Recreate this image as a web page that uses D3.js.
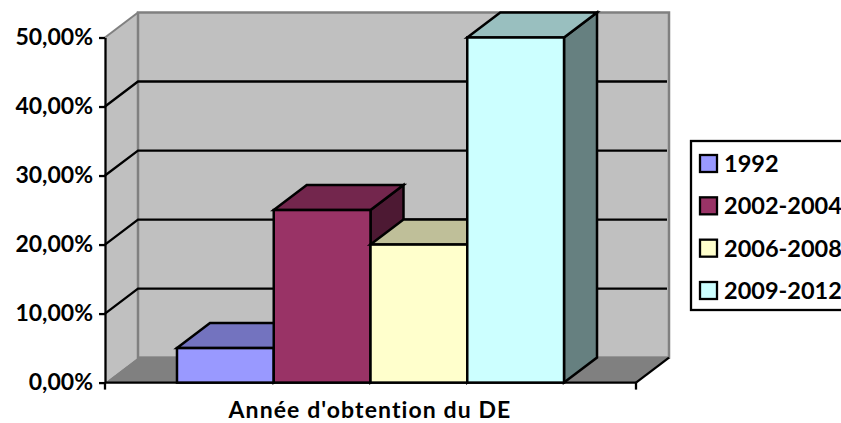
<!DOCTYPE html>
<html>
<head>
<meta charset="utf-8">
<script src="https://cdn.jsdelivr.net/npm/d3@7"></script>
<style>
  body { margin: 0; background: #fff; }
  svg { display: block; }
  text { font-family: Lato, sans-serif; font-weight: 700; fill: #000; }
</style>
</head>
<body>
<svg width="841" height="423"></svg>
<script>
var series = ['1992', '2002-2004', '2006-2008', '2009-2012'];
var values = [5, 25, 20, 50];
var frontColors = ['#9999ff', '#993366', '#ffffcc', '#ccffff'];
var topColors = ['#7373bf', '#73264d', '#bfbf99', '#99bfbf'];
var sideColors = ['#4d4d80', '#4d1933', '#808066', '#668080'];
var yTicks = [0, 10, 20, 30, 40, 50];
var axisTitle = "Année d'obtention du DE";

var svg = d3.select('svg');

// 3d offset of the back wall
var dx = 33, dy = -25;

var yScale = d3.scaleLinear()
               .domain([0, 50])
               .range([382.6, 37.5]);

var xScale = d3.scaleBand()
               .domain(series)
               .range([105, 636])
               .paddingInner(0)
               .paddingOuter(0.744);

var x0 = xScale.range()[0], x1 = xScale.range()[1];
var base = yScale(0), top50 = yScale(50);

function pts(list) {
  return list.map(function(p) { return p.join(','); }).join(' ');
}

// left wall + back wall + floor
svg.append('polygon')
   .attr('points', pts([[x0, base], [x0, top50], [x0 + dx, top50 + dy], [x0 + dx, base + dy]]))
   .style('fill', '#c0c0c0');
svg.append('rect')
   .attr('x', x0 + dx)
   .attr('y', top50 + dy)
   .attr('width', x1 - x0)
   .attr('height', base - top50)
   .style('fill', '#c0c0c0')
   .style('stroke', '#808080')
   .style('stroke-width', 2.5);
svg.append('polyline')
   .attr('points', pts([[x0, top50], [x0 + dx, top50 + dy]]))
   .style('fill', 'none')
   .style('stroke', '#808080')
   .style('stroke-width', 2);
svg.append('polygon')
   .attr('points', pts([[x0, base], [x1, base], [x1 + dx, base + dy], [x0 + dx, base + dy]]))
   .style('fill', '#808080');

// gridlines go round the left wall and along the back one
svg.selectAll('polyline.grid')
   .data(yTicks.filter(function(d) { return d > 0 && d < 50; }))
   .enter()
   .append('polyline')
   .attr('class', 'grid')
   .attr('points', function(d) {
     return pts([[x0, yScale(d)], [x0 + dx, yScale(d) + dy], [x1 + dx - 2, yScale(d) + dy]]);
   })
   .style('fill', 'none')
   .style('stroke', '#000')
   .style('stroke-width', 2.3);

// axis lines
var yAxis = d3.axisLeft(yScale)
              .tickValues(yTicks)
              .tickSize(6)
              .tickSizeOuter(0)
              .tickPadding(6)
              .tickFormat(function(d) { return d3.format('.2f')(d).replace('.', ',') + '%'; });
var yG = svg.append('g')
            .attr('id', 'yAxis')
            .attr('transform', 'translate(' + x0 + ',0)')
            .call(yAxis);
yG.selectAll('text').style('font-size', '23px');
yG.selectAll('line, path').style('stroke', '#000').style('stroke-width', 2.3);

svg.append('line')
   .attr('x1', x0).attr('x2', x1)
   .attr('y1', base).attr('y2', base)
   .style('stroke', '#000').style('stroke-width', 2.3);
svg.append('line')
   .attr('x1', x1).attr('x2', x1 + dx)
   .attr('y1', base).attr('y2', base + dy)
   .style('stroke', '#000').style('stroke-width', 2.3);
svg.selectAll('line.xtick')
   .data([x0, x1])
   .enter()
   .append('line')
   .attr('class', 'xtick')
   .attr('x1', function(d) { return d; })
   .attr('x2', function(d) { return d; })
   .attr('y1', base)
   .attr('y2', base + 7)
   .style('stroke', '#000')
   .style('stroke-width', 2.3);

// bars, painted left to right so each one hides the neighbour's side
svg.selectAll('g.bar')
   .data(values)
   .enter()
   .append('g')
   .attr('class', 'bar')
   .each(function(d, i) {
     var g = d3.select(this);
     var l = xScale(series[i]), w = xScale.bandwidth(), t = yScale(d);
     g.append('polygon')
      .attr('points', pts([[l + w, base], [l + w, t], [l + w + dx, t + dy], [l + w + dx, base + dy]]))
      .style('fill', sideColors[i]);
     g.append('polygon')
      .attr('points', pts([[l, t], [l + w, t], [l + w + dx, t + dy], [l + dx, t + dy]]))
      .style('fill', topColors[i]);
     g.append('rect')
      .attr('x', l)
      .attr('y', t)
      .attr('width', w)
      .attr('height', base - t)
      .style('fill', frontColors[i]);
     g.selectAll('polygon, rect')
      .style('stroke', '#000')
      .style('stroke-width', 2.5)
      .style('stroke-linejoin', 'miter');
   });

svg.append('text')
   .attr('x', 370)
   .attr('y', 418.4)
   .attr('text-anchor', 'middle')
   .style('font-size', '23px')
   .style('letter-spacing', '1.1px')
   .text(axisTitle);

// legend, cut off by the right edge of the picture
svg.append('rect')
   .attr('x', 691)
   .attr('y', 141)
   .attr('width', 170)
   .attr('height', 169)
   .style('fill', '#fff')
   .style('stroke', '#000')
   .style('stroke-width', 2.3);

var legendY = d3.scalePoint()
                .domain(series)
                .range([163, 290]);

var legend = svg.selectAll('g.legend')
                .data(series)
                .enter()
                .append('g')
                .attr('class', 'legend')
                .attr('transform', function(d) {
                  return 'translate(700,' + legendY(d) + ')';
                });
legend.append('rect')
      .attr('y', -8)
      .attr('width', 17)
      .attr('height', 17)
      .style('fill', function(d, i) { return frontColors[i]; })
      .style('stroke', '#000')
      .style('stroke-width', 2.3);
legend.append('text')
      .attr('x', 24)
      .attr('y', 9)
      .style('font-size', '23.5px')
      .text(function(d) { return d; });
</script>
</body>
</html>
